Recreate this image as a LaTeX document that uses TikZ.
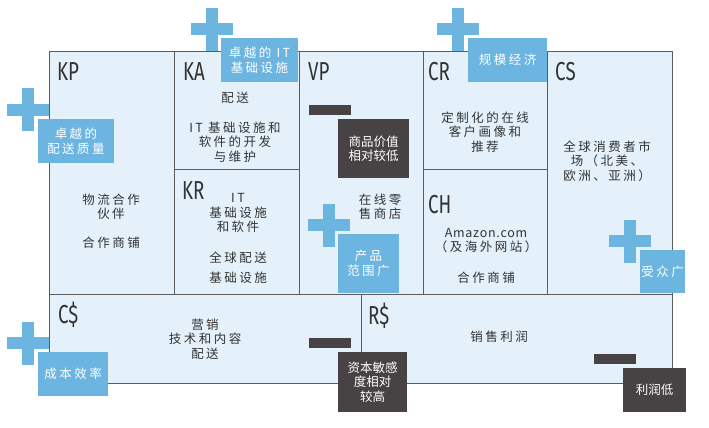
\documentclass[tikz,border=0pt]{standalone}
\usepackage{fontspec}
\usepackage{xcolor}
\usepackage{tikz}
\usetikzlibrary{positioning}
\setmainfont{Noto Sans CJK SC}[LetterSpace=20]
\newfontfamily\capfont{Fira Sans}[FakeStretch=0.72]
\newfontfamily\tightfont{Noto Sans CJK SC}
\newfontfamily\latinfont{Noto Sans CJK SC}[LetterSpace=6]
\definecolor{paper}{HTML}{E4F1FA}
\definecolor{edge}{HTML}{5C5C5C}
\definecolor{sky}{HTML}{6DB5E1}
\definecolor{ink}{HTML}{333333}
\definecolor{slate}{HTML}{474344}

\tikzset{
  cell/.style={draw=edge,line width=0.9pt,fill=paper},
  blk/.style={anchor=base west,inner sep=0,text=ink,font=\capfont\fontsize{26}{26}\selectfont},
  body/.style={align=center,inner sep=0,text=ink,font=\fontsize{12.5}{14.5}\selectfont},
  tag/.style={fill=sky,text=white,align=center,inner sep=0,font=\fontsize{12.5}{14.5}\selectfont},
  note/.style={fill=slate,text=white,align=center,inner sep=0,font=\tightfont\fontsize{12.5}{14.5}\selectfont},
  plussign/.pic={
    \fill[sky] (-21,-6) rectangle (21,6);
    \fill[sky] (-6,-21.5) rectangle (6,21.5);
  },
  minusbar/.pic={
    \fill[slate] (-21,-5) rectangle (21,5);
  }
}

\begin{document}
\begin{tikzpicture}[x=1pt,y=-1pt,line cap=round,line join=round]
  \useasboundingbox (0,0) rectangle (709,428);
  % canvas
  \draw[cell] (49,51) rectangle (174,294);
  \draw[cell] (174,51) rectangle (299,169);
  \draw[cell] (174,169) rectangle (299,294);
  \draw[cell] (299,51) rectangle (423,294);
  \draw[cell] (423,51) rectangle (547,169);
  \draw[cell] (423,169) rectangle (547,294);
  \draw[cell] (547,51) rectangle (672,294);
  \draw[cell] (49,294) rectangle (361,383);
  \draw[cell] (361,294) rectangle (672,383);

  \node[blk] (kp) at (57,81) {KP};
  \node[blk] (ka) at (183,81) {KA};
  \node[blk] (kr) at (182,199) {KR};
  \node[blk] (vp) at (308,81) {VP};
  \node[blk] (cr) at (428,81) {CR};
  \node[blk] (ch) at (428,213) {CH};
  \node[blk] (cs) at (555,81) {CS};
  \node[blk] (cost) at (58,323) {C\$};
  \node[blk] (rev) at (368,324) {R\$};

  % contents
  \node[body] (kpa) at (111,206.5) {物流合作\\伙伴};
  \node[body] (kpb) at (111,243) {合作商铺};
  \node[body] (kaa) at (235,98) {配送};
  \node[body] (kab) at (235,142) {IT 基础设施和\\软件的开发\\与维护};
  \node[body] (kra) at (238,213) {IT\\基础设施\\和软件};
  \node[body] (krb) at (238,267.5) {全球配送\\[6pt]基础设施};
  \node[body] (vpa) at (380,206.5) {在线零\\售商店};
  \node[body] (cra) at (485,132) {定制化的在线\\客户画像和\\推荐};
  \node[body] (cha) at (486,240.5) {{\latinfont Amazon.com}\\（及海外网站）};
  \node[body] (chb) at (486,278) {合作商铺};
  \node[body] (csa) at (607,161) {全球消费者市\\场（北美、\\欧洲、亚洲）};
  \node[body] (costa) at (205,339) {营销\\技术和内容\\配送};
  \node[body] (reva) at (499,337) {销售利润};

  % pros and cons
  \pic at (212,29.5) {plussign};
  \pic at (28,109.5) {plussign};
  \pic at (458,29.5) {plussign};
  \pic at (329,225) {plussign};
  \pic at (630,241) {plussign};
  \pic at (28,343) {plussign};
  \pic at (330,110) {minusbar};
  \pic at (330,343) {minusbar};
  \pic at (615,358.5) {minusbar};

  \node[tag,minimum width=77,minimum height=44] (itinfra) at (259.5,60) {卓越的 IT\\基础设施};
  \node[tag,minimum width=76,minimum height=44] (delivery) at (76,141) {卓越的\\配送质量};
  \node[tag,minimum width=79,minimum height=44] (scale) at (507.5,60) {规模经济};
  \node[tag,minimum width=61,minimum height=59] (range) at (368.5,263.5) {产品\\范围广};
  \node[tag,minimum width=45,minimum height=43] (reach) at (662.5,271.5) {受众广};
  \node[tag,minimum width=70,minimum height=44] (costeff) at (73,374) {成本效率};
  \node[note,minimum width=71,minimum height=59] (lowvalue) at (373.5,148.5) {商品价值\\相对较低};
  \node[note,minimum width=69,minimum height=60] (capital) at (372.5,382) {资本敏感\\度相对\\较高};
  \node[note,minimum width=63,minimum height=44] (margin) at (654.5,390) {利润低};
\end{tikzpicture}
\end{document}
